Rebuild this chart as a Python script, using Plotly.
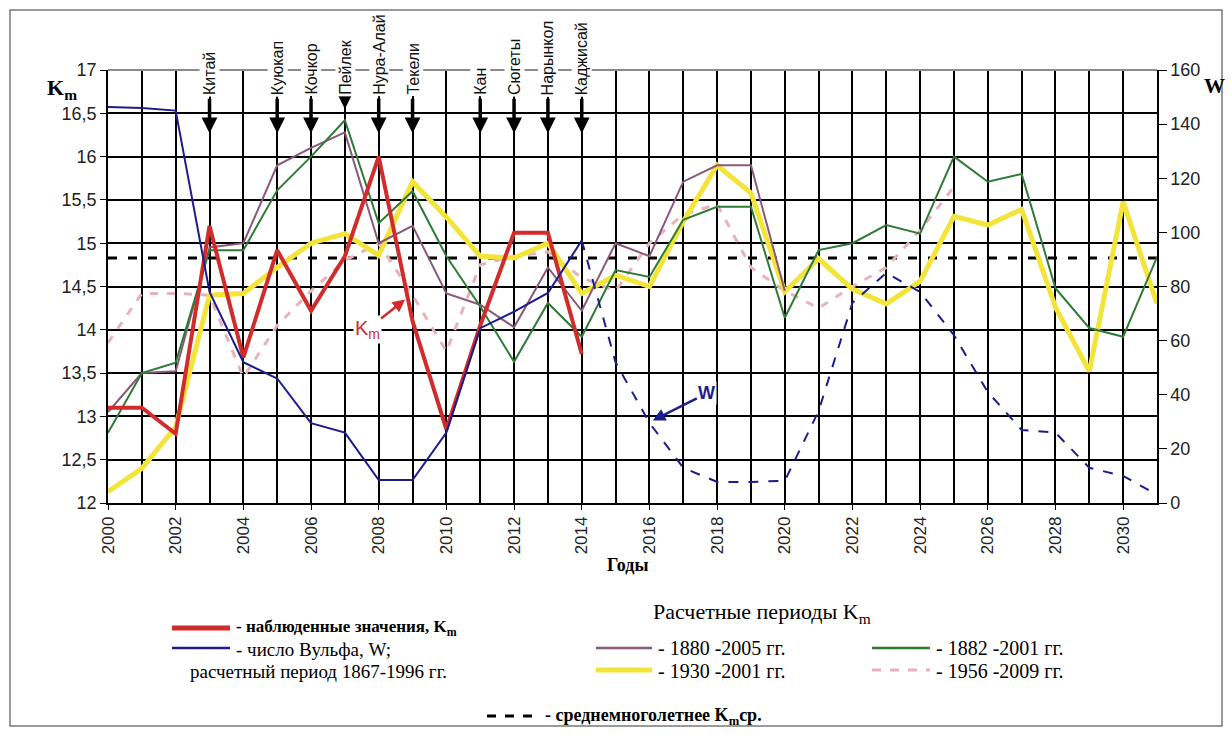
import plotly.graph_objects as go

# ---------------- data ----------------
years = list(range(2000, 2032))

obs_years = list(range(2000, 2015))
km_observed = [13.1, 13.1, 12.8, 15.2, 13.68, 14.92, 14.22, 14.85, 16.0, 14.1,
               12.85, 14.05, 15.12, 15.12, 13.72]

w_obs_years = list(range(2000, 2015))
w_observed = [146.3, 146.0, 145.0, 78.0, 52.0, 46.0, 29.5, 26.0, 8.5, 8.5,
              26.0, 64.6, 70.7, 77.6, 97.0]

w_fc_years = list(range(2014, 2032))
w_forecast = [97.0, 52.0, 29.6, 13.0, 7.8, 7.8, 8.2, 34.0, 74.0, 85.0,
              78.0, 62.0, 41.0, 27.0, 26.0, 13.0, 10.0, 3.0]

p1880_years = list(range(2000, 2021))
km_1880_2005 = [13.05, 13.5, 13.52, 14.95, 15.0, 15.9, 16.1, 16.28, 15.0, 15.2,
                14.42, 14.29, 14.03, 14.72, 14.22, 15.0, 14.85, 15.71, 15.9, 15.9,
                14.45]

km_1882_2001 = [12.81, 13.5, 13.62, 14.92, 14.92, 15.61, 16.0, 16.42, 15.23, 15.6,
                14.85, 14.27, 13.63, 14.31, 13.92, 14.69, 14.61, 15.27, 15.42, 15.42,
                14.14, 14.92, 15.0, 15.21, 15.11, 16.0, 15.71, 15.8, 14.48, 14.02,
                13.92, 14.84]

km_1930_2001 = [12.13, 12.4, 12.88, 14.4, 14.42, 14.72, 15.0, 15.11, 14.86, 15.71,
                15.3, 14.85, 14.83, 15.0, 14.42, 14.63, 14.5, 15.25, 15.9, 15.58,
                14.44, 14.82, 14.47, 14.3, 14.56, 15.31, 15.21, 15.39, 14.26, 13.52,
                15.48, 14.3]

p1956_years = list(range(2000, 2026))
km_1956_2009 = [13.85, 14.42, 14.42, 14.4, 13.45, 14.05, 14.45, 14.8, 15.0, 14.4,
                13.75, 14.75, 14.85, 14.9, 14.6, 14.45, 15.0, 15.33, 15.45, 14.72,
                14.45, 14.25, 14.5, 14.72, 15.15, 15.65]

km_mean = 14.83

stations = ["Китай", "Куюкап", "Кочкор", "Пейлек", "Нура-Алай", "Текели",
            "Кан", "Сюгеты", "Нарынкол", "Каджисай"]
station_years = [2003, 2005, 2006, 2007, 2008, 2009, 2011, 2012, 2013, 2014]

x_tick_years = list(range(2000, 2031, 2))
km_ticks = [12, 12.5, 13, 13.5, 14, 14.5, 15, 15.5, 16, 16.5, 17]
km_tick_text = ["12", "12,5", "13", "13,5", "14", "14,5", "15", "15,5", "16", "16,5", "17"]
w_ticks = [0, 20, 40, 60, 80, 100, 120, 140, 160]

# ---------------- geometry helpers (screen pixels) ----------------
W_FIG, H_FIG = 1231, 735
L, R, T, B = 108, 1157, 70, 503   # plot area on screen


def px(xp):
    return (xp - L) / (R - L)


def py(yp):
    return (B - yp) / (B - T)


SANS_N = "Liberation Sans Narrow, Arial Narrow, Liberation Sans, Arial, sans-serif"
SANS = "Liberation Sans, Arial, sans-serif"
SERIF = "Liberation Serif, Times New Roman, serif"

RED = "#d22b2b"
BLUE = "#1c1c8f"
PURPLE = "#8a5878"
GREEN = "#2e7a36"
YELLOW = "#f3e43a"
PINK = "#e7b3bb"

fig = go.Figure()

# mean line
fig.add_trace(go.Scatter(x=[years[0], years[-1]], y=[km_mean, km_mean], mode="lines",
                         line=dict(color="black", width=3, dash="9px,11px"),
                         hoverinfo="skip", showlegend=False))
# forecasts
fig.add_trace(go.Scatter(x=p1956_years, y=km_1956_2009, mode="lines",
                         line=dict(color=PINK, width=3, dash="8px,9px"), showlegend=False))
fig.add_trace(go.Scatter(x=years, y=km_1930_2001, mode="lines",
                         line=dict(color=YELLOW, width=5), showlegend=False))
fig.add_trace(go.Scatter(x=p1880_years, y=km_1880_2005, mode="lines",
                         line=dict(color=PURPLE, width=2), showlegend=False))
fig.add_trace(go.Scatter(x=years, y=km_1882_2001, mode="lines",
                         line=dict(color=GREEN, width=2), showlegend=False))
# Wolf number
fig.add_trace(go.Scatter(x=w_obs_years, y=w_observed, mode="lines", yaxis="y2",
                         line=dict(color=BLUE, width=2), showlegend=False))
fig.add_trace(go.Scatter(x=w_fc_years, y=w_forecast, mode="lines", yaxis="y2",
                         line=dict(color=BLUE, width=2, dash="10px,10px"), showlegend=False))
# observed Km
fig.add_trace(go.Scatter(x=obs_years, y=km_observed, mode="lines",
                         line=dict(color=RED, width=4), showlegend=False))

annotations = []
shapes = []

# top edge in grey
shapes.append(dict(type="line", xref="paper", yref="paper", x0=0, x1=1, y0=1, y1=1,
                   line=dict(color="#8a8a8a", width=2), layer="above"))
# outer frame
shapes.append(dict(type="rect", xref="paper", yref="paper",
                   x0=px(10), x1=px(1222), y0=py(10), y1=py(726),
                   line=dict(color="#7a7a7a", width=1.5)))

# stations: arrows + rotated labels
for name, yr in zip(stations, station_years):
    tip = 16.55 if name == "Пейлек" else 16.27
    ay = -20 if name == "Пейлек" else -36
    annotations.append(dict(x=yr, y=tip, xref="x", yref="y", text="", showarrow=True,
                            ax=0, ay=ay, arrowhead=2, arrowsize=0.9, arrowwidth=3.5,
                            arrowcolor="black"))
    annotations.append(dict(x=yr, y=py(97), xref="x", yref="paper", text=name,
                            textangle=-90, showarrow=False, xanchor="center",
                            yanchor="bottom", bgcolor="white", borderpad=1,
                            font=dict(family=SANS, size=16, color="#111")))

# in-plot labels
annotations.append(dict(x=2008.78, y=14.35, xref="x", yref="y",
                        text="K<sub>m</sub>", showarrow=True, ax=-38, ay=30,
                        arrowhead=2, arrowsize=1, arrowwidth=2.5, arrowcolor=RED,
                        font=dict(family=SANS_N, size=20, color=RED),
                        bgcolor="white"))
annotations.append(dict(x=2016.1, y=30.5, xref="x", yref="y2",
                        text="<b>W</b>", showarrow=True, ax=54, ay=-27,
                        arrowhead=2, arrowsize=1, arrowwidth=2.5, arrowcolor=BLUE,
                        font=dict(family=SANS, size=18, color=BLUE),
                        bgcolor="white"))

# axis titles
annotations.append(dict(x=px(45), y=py(73), xref="paper", yref="paper",
                        text="<b>K<sub>m</sub></b>", showarrow=False,
                        font=dict(family=SERIF, size=22, color="black")))
annotations.append(dict(x=px(1202), y=py(72), xref="paper", yref="paper",
                        text="<b>W</b>", showarrow=False, xanchor="left",
                        font=dict(family=SERIF, size=21, color="black")))
annotations.append(dict(x=px(628), y=py(577), xref="paper", yref="paper",
                        text="<b>Годы</b>", showarrow=False,
                        font=dict(family=SERIF, size=18, color="black")))

# ---------------- custom legend ----------------
def leg_line(x0, x1, yp, color, width, dash="solid"):
    shapes.append(dict(type="line", xref="paper", yref="paper",
                       x0=px(x0), x1=px(x1), y0=py(yp), y1=py(yp),
                       line=dict(color=color, width=width, dash=dash)))


def leg_text(x0, yp, text, size=16, bold=False):
    if bold:
        text = "<b>" + text + "</b>"
    annotations.append(dict(x=px(x0), y=py(yp), xref="paper", yref="paper",
                            text=text, showarrow=False, xanchor="left", yanchor="middle",
                            font=dict(family=SERIF, size=size, color="black")))


leg_line(172, 230, 628, RED, 5)
leg_text(234, 628, "- наблюденные значения, K<sub>m</sub>", size=17, bold=True)
leg_line(172, 230, 648, BLUE, 2.5)
leg_text(234, 649, "- число Вульфа, W;", size=19)
leg_text(188, 671, "расчетный период 1867-1996 гг.", size=19)

leg_text(651, 613, "Расчетные периоды K<sub>m</sub>", size=22)
leg_line(596, 652, 648, PURPLE, 2.5)
leg_text(656, 648, "- 1880 -2005 гг.", size=20)
leg_line(872, 930, 648, GREEN, 2.5)
leg_text(934, 648, "- 1882 -2001 гг.", size=20)
leg_line(596, 652, 670, YELLOW, 5)
leg_text(656, 671, "- 1930 -2001 гг.", size=20)
leg_line(872, 930, 670, PINK, 3, dash="dash")
leg_text(934, 671, "- 1956 -2009 гг.", size=20)
leg_line(487, 540, 716, "black", 3, dash="dash")
leg_text(543, 716, "- среднемноголетнее K<sub>m</sub>ср.", size=18, bold=True)

fig.update_layout(
    width=W_FIG, height=H_FIG,
    margin=dict(l=L, r=W_FIG - R, t=T, b=H_FIG - B),
    paper_bgcolor="white", plot_bgcolor="white",
    showlegend=False,
    xaxis=dict(range=[2000, 2031], tickvals=x_tick_years,
               ticktext=[str(v) for v in x_tick_years], tickangle=-90,
               showgrid=True, gridcolor="black", gridwidth=1.5,
               minor=dict(tickvals=years, showgrid=True, gridcolor="black", gridwidth=1.5),
               showline=True, linecolor="black", linewidth=1.5,
               ticks="outside", ticklen=5, tickcolor="black",
               tickfont=dict(family=SANS_N, size=17, color="#222"), zeroline=False),
    yaxis=dict(range=[12, 17], tickvals=km_ticks, ticktext=km_tick_text,
               showgrid=True, gridcolor="black", gridwidth=1.5,
               showline=True, linecolor="black", linewidth=1.5,
               ticks="outside", ticklen=6, tickcolor="black",
               tickfont=dict(family=SANS_N, size=18, color="#222"), zeroline=False),
    yaxis2=dict(range=[0, 160], tickvals=w_ticks, overlaying="y", side="right",
                showgrid=False, showline=True, linecolor="black", linewidth=1.5,
                ticks="outside", ticklen=8, tickcolor="black",
                tickfont=dict(family=SANS_N, size=18, color="#222"), zeroline=False),
    shapes=shapes,
    annotations=annotations,
)

# remove the default page margin so the 1231x735 figure fills the window exactly
page_fix = ("document.body.style.margin='0';document.body.style.padding='0';"
            "document.documentElement.style.overflow='hidden';")
fig.write_html("out.html", post_script=page_fix, config={"displayModeBar": False})
